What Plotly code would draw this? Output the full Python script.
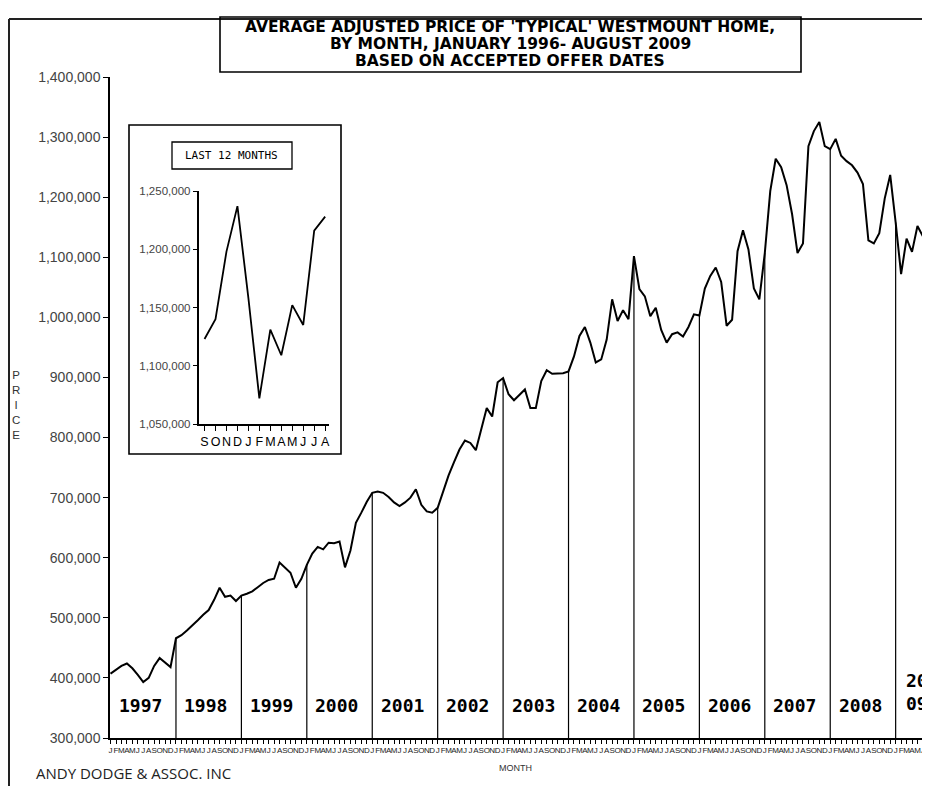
import plotly.graph_objects as go

# ---------------- data (average adjusted price, thousands of $) ----------------
price_1997 = [407, 414, 420, 424, 416, 405, 393, 400, 420, 433, 426, 418]
price_1998 = [466, 471, 479, 487, 496, 505, 513, 530, 550, 535, 537, 528]
price_1999 = [537, 540, 544, 551, 558, 563, 565, 592, 584, 575, 550, 565]
price_2000 = [588, 607, 618, 614, 625, 624, 627, 584, 612, 658, 675, 693]
price_2001 = [708, 710, 708, 701, 692, 686, 692, 700, 714, 688, 677, 675]
price_2002 = [683, 712, 737, 759, 780, 795, 791, 779, 813, 849, 835, 892]
price_2003 = [899, 872, 862, 871, 880, 849, 849, 894, 912, 906, 906, 907]
price_2004 = [910, 935, 969, 984, 958, 925, 930, 963, 1030, 994, 1012, 997]
price_2005 = [1102, 1047, 1035, 1002, 1016, 979, 958, 972, 975, 968, 984, 1005]
price_2006 = [1003, 1048, 1069, 1083, 1059, 986, 996, 1110, 1145, 1113, 1048, 1030]
price_2007 = [1107, 1210, 1264, 1250, 1220, 1172, 1107, 1123, 1285, 1310, 1325, 1285]
price_2008 = [1280, 1297, 1269, 1260, 1253, 1241, 1222, 1128, 1123, 1140, 1198, 1237]
price_2009 = [1158, 1072, 1131, 1109, 1152, 1135, 1216, 1228]

year_labels = ["1997", "1998", "1999", "2000", "2001", "2002", "2003",
               "2004", "2005", "2006", "2007", "2008", "20<br>09"]
month_letters = ["J", "F", "M", "A", "M", "J", "J", "A", "S", "O", "N", "D"]
inset_month_letters = ["S", "O", "N", "D", "J", "F", "M", "A", "M", "J", "J", "A"]

y_ticks_main = list(range(300000, 1400001, 100000))
y_ticks_inset = list(range(1050000, 1250001, 50000))

title_lines = ["AVERAGE ADJUSTED PRICE OF 'TYPICAL' WESTMOUNT HOME,",
               "BY MONTH, JANUARY 1996- AUGUST 2009",
               "BASED ON ACCEPTED OFFER DATES"]

# ---------------- build series ----------------
yearly = [price_1997, price_1998, price_1999, price_2000, price_2001, price_2002,
          price_2003, price_2004, price_2005, price_2006, price_2007, price_2008,
          price_2009]
prices = [v * 1000 for yr in yearly for v in yr]
n = len(prices)
idx = list(range(n))
tick_text = [month_letters[i % 12] for i in idx]

inset_vals = prices[-12:]

# ---------------- pixel helpers ----------------
# the page body has an 8px margin, so figure coords = screen coords - 8
OFF = 8
W, H = 930, 786
L, R, T, B = 110, 930, 77, 738   # plot area in screen pixels


def px(x):
    return (x - L) / (R - L)


def py(y):
    return (B - y) / (B - T)


def yval(y):
    return 300000 + (B - y) / (B - T) * 1100000


fig = go.Figure()

fig.add_trace(go.Scatter(x=idx, y=prices, mode="lines",
                         line=dict(color="black", width=2),
                         hoverinfo="skip", showlegend=False))

fig.add_trace(go.Scatter(x=list(range(12)), y=inset_vals, mode="lines",
                         line=dict(color="black", width=1.8),
                         xaxis="x2", yaxis="y2",
                         hoverinfo="skip", showlegend=False))

shapes = []
# vertical separators at each January
for k in range(12, n, 12):
    shapes.append(dict(type="line", xref="x", yref="y", x0=k, x1=k,
                       y0=300000, y1=prices[k],
                       line=dict(color="black", width=1.2)))

# outer frame (left + top)
shapes.append(dict(type="line", xref="paper", yref="paper",
                   x0=px(9), x1=px(9), y0=py(800), y1=py(19),
                   line=dict(color="#222", width=2)))
shapes.append(dict(type="line", xref="paper", yref="paper",
                   x0=px(9), x1=px(940), y0=py(19), y1=py(19),
                   line=dict(color="#222", width=2)))
# title box
shapes.append(dict(type="rect", xref="paper", yref="paper",
                   x0=px(220), x1=px(801), y0=py(72), y1=py(17),
                   line=dict(color="black", width=1.6)))
# inset box
shapes.append(dict(type="rect", xref="paper", yref="paper",
                   x0=px(129), x1=px(341), y0=py(454), y1=py(125),
                   line=dict(color="black", width=1.6)))
# "LAST 12 MONTHS" box
shapes.append(dict(type="rect", xref="paper", yref="paper",
                   x0=px(172), x1=px(292), y0=py(169), y1=py(142),
                   line=dict(color="black", width=1.3)))

annotations = []
for line_text, ly in zip(title_lines, [27, 44, 61]):
    annotations.append(dict(xref="paper", yref="paper", x=px(510), y=py(ly),
                            text="<b>" + line_text + "</b>", showarrow=False,
                            xanchor="center", yanchor="middle",
                            font=dict(family="DejaVu Sans, Liberation Sans",
                                      size=15.5, color="black")))
annotations.append(dict(xref="paper", yref="paper", x=px(231), y=py(155.5),
                        text="LAST 12 MONTHS", showarrow=False,
                        xanchor="center", yanchor="middle",
                        font=dict(family="DejaVu Sans Mono", size=11, color="black")))
annotations.append(dict(xref="paper", yref="paper", x=px(16), y=py(405),
                        text="P<br>R<br>I<br>C<br>E", showarrow=False,
                        xanchor="center", yanchor="middle", align="center",
                        font=dict(family="Liberation Sans", size=11.5, color="#333")))
annotations.append(dict(xref="paper", yref="paper", x=px(515), y=py(768),
                        text="MONTH", showarrow=False,
                        xanchor="center", yanchor="middle",
                        font=dict(family="Liberation Sans", size=9, color="#333")))
annotations.append(dict(xref="paper", yref="paper", x=px(34), y=py(773),
                        text="ANDY DODGE &amp; ASSOC. INC", showarrow=False,
                        xanchor="left", yanchor="middle",
                        font=dict(family="Open Sans", size=15, color="#222")))

# year labels inside each year segment
for i, lab in enumerate(year_labels):
    if "<br>" in lab:
        annotations.append(dict(xref="x", yref="y", x=147.9, y=yval(692),
                                text="<b>" + lab + "</b>", showarrow=False,
                                xanchor="center", yanchor="middle", align="center",
                                font=dict(family="DejaVu Sans Mono", size=18, color="black")))
    else:
        annotations.append(dict(xref="x", yref="y", x=12 * i + 5.5, y=yval(705),
                                text="<b>" + lab + "</b>", showarrow=False,
                                xanchor="center", yanchor="middle",
                                font=dict(family="DejaVu Sans Mono", size=18, color="black")))

fig.update_layout(
    width=W, height=H,
    margin=dict(l=L - OFF, r=W - (R - OFF), t=T - OFF, b=H - (B - OFF), pad=0),
    paper_bgcolor="white", plot_bgcolor="white",
    showlegend=False,
    shapes=shapes, annotations=annotations,
    xaxis=dict(domain=[0, 1], range=[-0.1, 150.3],
               tickmode="array", tickvals=idx, ticktext=tick_text,
               tickangle=0, ticks="outside", ticklen=4, tickwidth=1,
               tickcolor="black",
               tickfont=dict(family="Liberation Sans", size=8, color="#222"),
               showline=True, linecolor="black", linewidth=1.5,
               showgrid=False, zeroline=False, fixedrange=True),
    yaxis=dict(range=[300000, 1400000], tickmode="array",
               tickvals=y_ticks_main, tickformat=",",
               ticks="outside", ticklen=5, tickwidth=1, tickcolor="black",
               tickfont=dict(family="Liberation Sans", size=14, color="#444"),
               showline=True, linecolor="black", linewidth=1.5,
               showgrid=False, zeroline=False),
    xaxis2=dict(domain=[px(198.5), px(329)], anchor="y2",
                range=[-0.55, 11.35], tickmode="array",
                tickvals=list(range(12)), ticktext=inset_month_letters,
                tickangle=0, ticks="outside", ticklen=5, tickcolor="black",
                tickfont=dict(family="Liberation Sans", size=12.5, color="black"),
                showline=True, linecolor="black", linewidth=1.5,
                showgrid=False, zeroline=False),
    yaxis2=dict(domain=[py(424), py(191)], anchor="x2",
                range=[1050000, 1250000], tickmode="array",
                tickvals=y_ticks_inset, tickformat=",",
                ticks="outside", ticklen=4, tickcolor="black",
                tickfont=dict(family="Liberation Sans", size=11.5, color="#444"),
                showline=True, linecolor="black", linewidth=1.5,
                showgrid=False, zeroline=False),
)

fig.write_html("out.html")
